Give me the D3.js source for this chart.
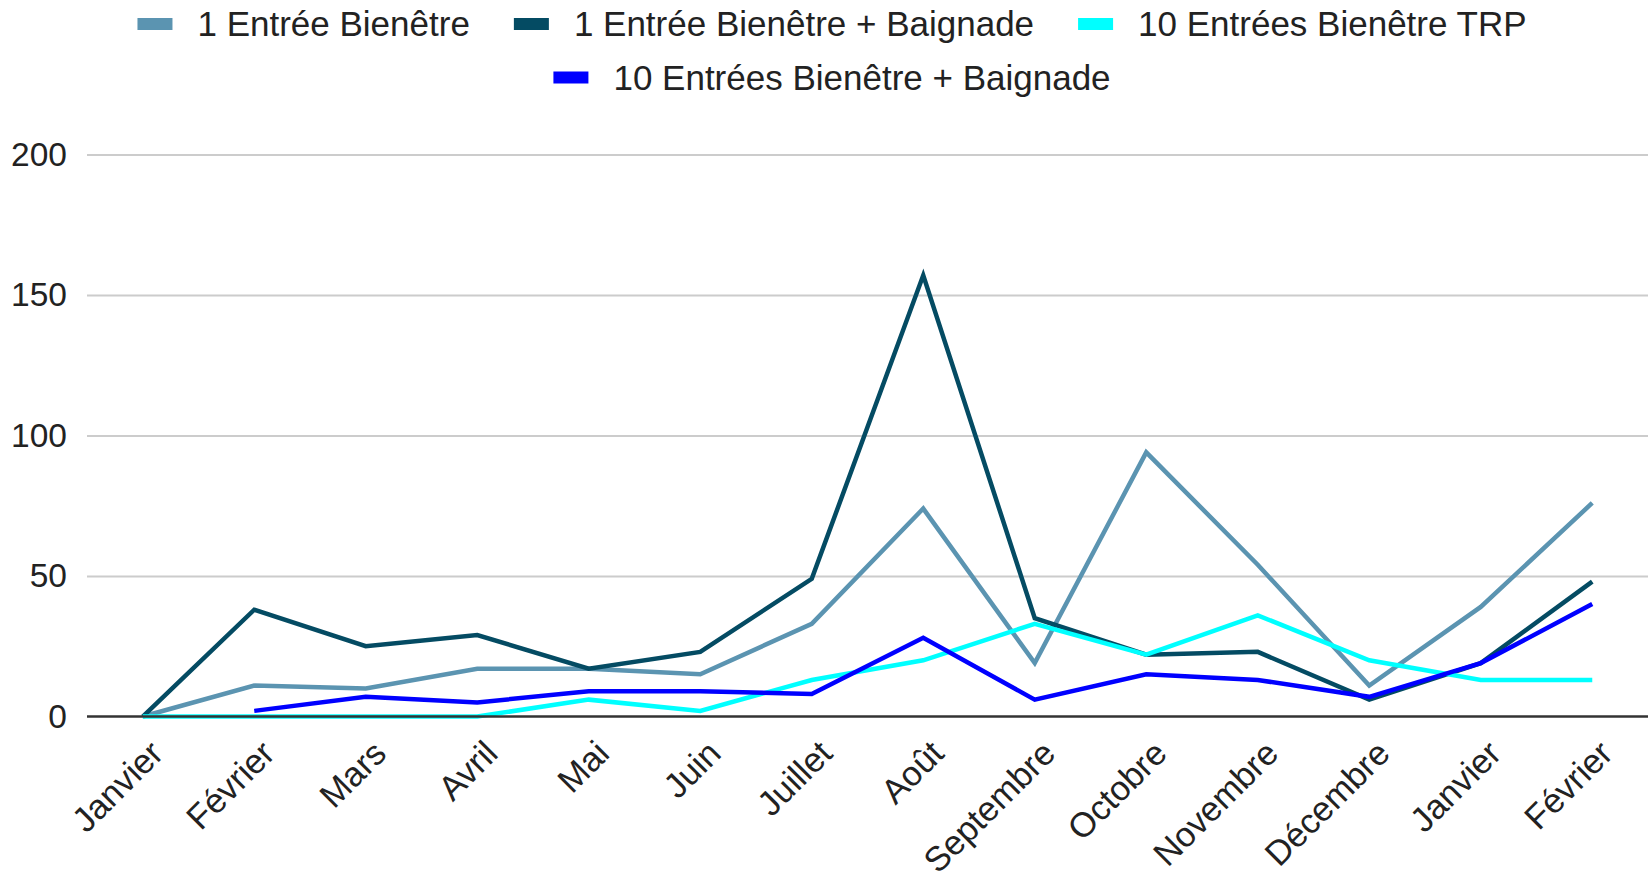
<!DOCTYPE html>
<html>
<head>
<meta charset="utf-8">
<script src="https://cdn.jsdelivr.net/npm/d3@7"></script>
<style>
  html, body { margin: 0; padding: 0; background: #fff; }
  svg { display: block; font-family: "Liberation Sans", Arial, sans-serif; }
</style>
</head>
<body>
<svg id="chart" width="1648" height="877"></svg>
<script>
const months = ["Janvier","Février","Mars","Avril","Mai","Juin","Juillet","Août","Septembre","Octobre","Novembre","Décembre","Janvier","Février"];
const seriesNames = ["1 Entrée Bienêtre","1 Entrée Bienêtre + Baignade","10 Entrées Bienêtre TRP","10 Entrées Bienêtre + Baignade"];
const seriesColors = ["#5b94b1","#044b63","#00ffff","#0000ff"];
const entree1 = [0,11,10,17,17,15,33,74,19,94,54,11,39,76];
const entree1Baignade = [0,38,25,29,17,23,49,157,35,22,23,6,19,48];
const entrees10TRP = [0,0,0,0,6,2,13,20,33,22,36,20,13,13];
const entrees10Baignade = [null,2,7,5,9,9,8,28,6,15,13,7,19,40];
const yTicks = [0,50,100,150,200];

const seriesValues = [entree1, entree1Baignade, entrees10TRP, entrees10Baignade];

const svg = d3.select("#chart");
const plotLeft = 87, plotRight = 1648, plotTop = 154.5, plotBottom = 716.5;

const x = d3.scalePoint().domain(d3.range(months.length)).range([plotLeft, plotRight]).padding(0.5);
const y = d3.scaleLinear().domain([0, 200]).range([plotBottom, plotTop]);

// gridlines
const yAxis = d3.axisLeft(y).tickValues(yTicks).tickSize(-(plotRight - plotLeft)).tickPadding(20);
const gy = svg.append("g").attr("transform", `translate(${plotLeft},0)`).call(yAxis);
gy.select(".domain").remove();
gy.selectAll(".tick line").attr("stroke", "#cccccc").attr("stroke-width", 2);
gy.selectAll(".tick text").attr("font-size", 33.5).attr("fill", "#222").attr("font-family", "Liberation Sans, Arial, sans-serif");
gy.selectAll(".tick").filter(d => d === 0).select("line").remove();

// lines
const line = d3.line().defined(d => d != null).x((d, i) => x(i)).y(d => y(d));
seriesValues.forEach((vals, k) => {
  svg.append("path")
    .datum(vals)
    .attr("fill", "none")
    .attr("stroke", seriesColors[k])
    .attr("stroke-width", 4.5)
    .attr("stroke-linejoin", "miter")
    .attr("d", line);
});

// x axis baseline
const xAxis = d3.axisBottom(x).tickSize(0).tickFormat(i => months[i]);
const gx = svg.append("g").attr("transform", `translate(0,${plotBottom})`).call(xAxis);
gx.select(".domain").attr("stroke", "#333").attr("stroke-width", 2.5).attr("d", `M${plotLeft},0H${plotRight}`);
gx.selectAll(".tick text")
  .attr("font-size", 34.5)
  .attr("fill", "#222")
  .attr("font-family", "Liberation Sans, Arial, sans-serif")
  .attr("text-anchor", "end")
  .attr("dy", null)
  .attr("y", 0)
  .attr("transform", "translate(22,39) rotate(-45)");

// legend
const rows = [[0,1,2],[3]];
const rowY = [24, 77.5];
const legendCenter = 832;
rows.forEach((row, r) => {
  const g = svg.append("g");
  let cx = 0;
  row.forEach((k, j) => {
    const item = g.append("g").attr("transform", `translate(${cx},0)`);
    item.append("rect").attr("x", 0).attr("y", rowY[r] - 6).attr("width", 35).attr("height", 12).attr("fill", seriesColors[k]);
    const t = item.append("text").attr("x", 60).attr("y", rowY[r]).attr("dy", "0.35em")
      .attr("font-size", 35).attr("fill", "#222").text(seriesNames[k]);
    const w = 60 + t.node().getComputedTextLength();
    cx += w + (j < row.length - 1 ? 44 : 0);
  });
  g.attr("transform", `translate(${legendCenter - cx / 2},0)`);
});
</script>
</body>
</html>
